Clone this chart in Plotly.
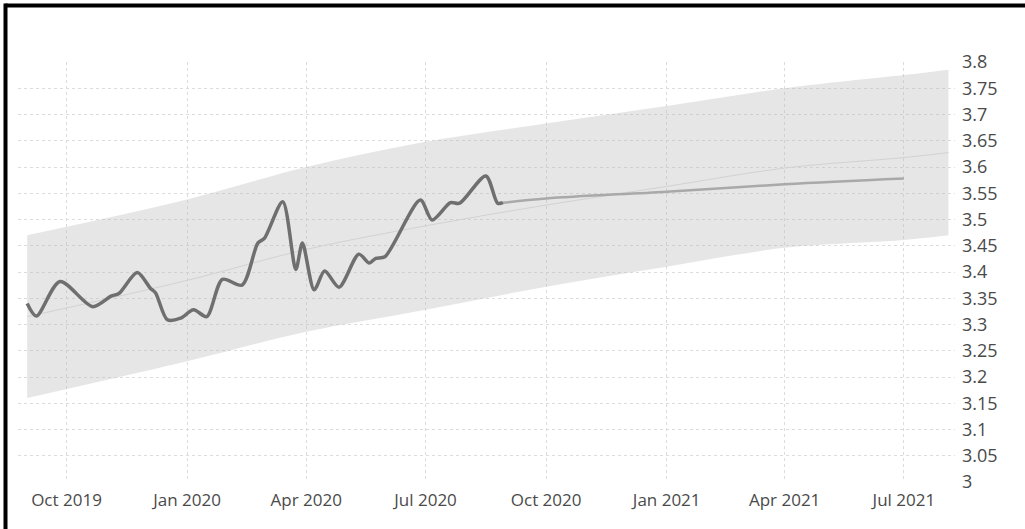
import plotly.graph_objects as go

# Observed series
obs_dates = ["2019-09-01", "2019-09-08", "2019-09-26", "2019-10-21", "2019-11-04", "2019-11-10",
             "2019-11-24", "2019-12-04", "2019-12-08", "2019-12-17", "2019-12-27", "2020-01-06",
             "2020-01-16", "2020-01-28", "2020-02-12", "2020-02-24", "2020-02-29", "2020-03-14",
             "2020-03-24", "2020-03-29", "2020-04-07", "2020-04-15", "2020-04-26", "2020-05-11",
             "2020-05-19", "2020-05-24", "2020-05-31", "2020-06-27", "2020-07-06", "2020-07-20",
             "2020-07-27", "2020-08-16", "2020-08-25", "2020-08-29"]
obs_values = [3.340, 3.316, 3.382, 3.334, 3.354, 3.359,
              3.399, 3.369, 3.360, 3.309, 3.312, 3.328,
              3.315, 3.386, 3.375, 3.455, 3.464, 3.534,
              3.405, 3.455, 3.366, 3.402, 3.371, 3.434,
              3.417, 3.426, 3.429, 3.537, 3.499, 3.532,
              3.531, 3.583, 3.531, 3.532]

# Forecast
fc_dates = ["2020-08-29", "2020-10-01", "2021-01-01", "2021-04-01", "2021-07-01"]
fc_values = [3.532, 3.540, 3.553, 3.567, 3.578]

# Band
band_dates = ["2019-09-01", "2020-01-01", "2020-04-01", "2020-07-01", "2020-10-01",
              "2021-01-01", "2021-04-01", "2021-07-01", "2021-08-04"]
band_upper = [3.470, 3.538, 3.600, 3.648, 3.683, 3.716, 3.750, 3.775, 3.785]
band_lower = [3.160, 3.230, 3.286, 3.328, 3.372, 3.410, 3.446, 3.461, 3.470]
band_center = [(u + l) / 2 for u, l in zip(band_upper, band_lower)]

y_ticks = [3 + 0.05 * i for i in range(17)]
y_tick_text = ["3", "3.05", "3.1", "3.15", "3.2", "3.25", "3.3", "3.35", "3.4", "3.45",
               "3.5", "3.55", "3.6", "3.65", "3.7", "3.75", "3.8"]

fig = go.Figure()
fig.add_trace(go.Scatter(x=band_dates, y=band_lower, mode="lines", line=dict(width=0, shape="spline"),
                         showlegend=False, hoverinfo="skip"))
fig.add_trace(go.Scatter(x=band_dates, y=band_upper, mode="lines", line=dict(width=0, shape="spline"),
                         fill="tonexty", fillcolor="rgba(190,190,190,0.38)", showlegend=False, hoverinfo="skip"))
fig.add_trace(go.Scatter(x=band_dates, y=band_center, mode="lines",
                         line=dict(width=1, color="#d2d2d2", shape="spline"), showlegend=False))
fig.add_trace(go.Scatter(x=fc_dates, y=fc_values, mode="lines",
                         line=dict(width=2.5, color="#a9a9a9", shape="spline"), showlegend=False))
fig.add_trace(go.Scatter(x=obs_dates, y=obs_values, mode="lines",
                         line=dict(width=3.5, color="#6f6f6f", shape="spline", smoothing=0.8), showlegend=False))

W, H = 1025, 529
L, R, T, B = 18, 70, 62, 47
pw, ph = W - L - R, H - T - B

fig.update_layout(
    width=W, height=H,
    margin=dict(l=L, r=R, t=T, b=B),
    paper_bgcolor="white", plot_bgcolor="white",
    font=dict(family="Open Sans", size=17, color="#4a4a4a"),
    showlegend=False,
    xaxis=dict(range=["2019-08-25", "2021-08-09"], type="date", dtick="M3", tick0="2019-10-01",
               tickformat="%b %Y", showgrid=True, gridcolor="#dcdcdc", griddash="dot",
               zeroline=False, showline=False, ticks="", ticklabelstandoff=6,
               tickfont=dict(size=17)),
    yaxis=dict(range=[3, 3.8], side="right", tickvals=y_ticks, ticktext=y_tick_text,
               showgrid=True, gridcolor="#dcdcdc", griddash="dot", zeroline=False,
               showline=False, ticks="", ticklabelstandoff=6, tickfont=dict(size=18)),
    shapes=[
        dict(type="line", xref="paper", yref="paper",
             x0=(5.5 - L) / pw, x1=(W - L) / pw, y0=1 + (T - 5.5) / ph, y1=1 + (T - 5.5) / ph,
             line=dict(color="black", width=4)),
        dict(type="line", xref="paper", yref="paper",
             x0=(5.5 - L) / pw, x1=(5.5 - L) / pw, y0=1 + (T - 3.5) / ph, y1=-B / ph,
             line=dict(color="black", width=4)),
    ],
)

fig.write_html("out.html")
